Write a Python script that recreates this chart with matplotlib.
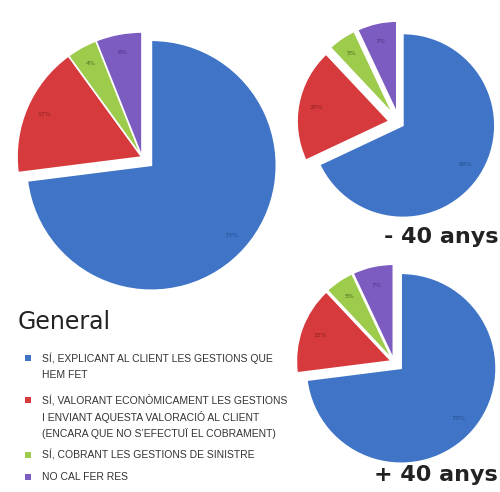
import matplotlib
matplotlib.use('Agg')
import matplotlib.pyplot as plt

# dades
categories = ['SÍ, EXPLICANT AL CLIENT LES GESTIONS QUE\nHEM FET',
              'SÍ, VALORANT ECONÒMICAMENT LES GESTIONS\nI ENVIANT AQUESTA VALORACIÓ AL CLIENT\n(ENCARA QUE NO S\u2019EFECTUÏ EL COBRAMENT)',
              'SÍ, COBRANT LES GESTIONS DE SINISTRE',
              'NO CAL FER RES']
general = [73, 17, 4, 6]
menys40 = [68, 20, 5, 7]
mes40 = [73, 15, 5, 7]
titles = ['General', '- 40 anys', '+ 40 anys']

colors = ['#3f74c6', '#d63a3c', '#9dcb4c', '#7d5cc2']
pct_colors = ['#27508f', '#8c2222', '#4d6b1c', '#4a3182']

W, H = 500, 492
fig = plt.figure(figsize=(W / 100, H / 100), dpi=100)
ax = fig.add_axes([0, 0, 1, 1])
ax.set_xlim(0, W)
ax.set_ylim(0, H)
ax.axis('off')


def draw_pie(values, cx, cy, r, explode, pctdist):
    wedges, texts, autotexts = ax.pie(
        values, colors=colors, startangle=90, counterclock=False,
        center=(cx, H - cy), radius=r, explode=[e * r for e in explode],
        autopct='%d%%', pctdistance=pctdist,
        wedgeprops=dict(edgecolor='white', linewidth=1.2),
        textprops=dict(fontsize=4.5))
    for t, c in zip(autotexts, pct_colors):
        t.set_color(c)


draw_pie(general, 142, 157, 125, [0.1, 0, 0, 0], 0.85)
draw_pie(menys40, 399, 123, 92, [0.05, 0.11, 0.11, 0.11], 0.8)
draw_pie(mes40, 394, 362, 95, [0.1, 0.03, 0.03, 0.03], 0.8)

ax.set_xlim(0, W)
ax.set_ylim(0, H)
ax.set_aspect('auto')

ax.text(18, H - 322, titles[0], fontsize=17, color='#222222', va='center', ha='left')
ax.text(498, H - 237, titles[1], fontsize=16, fontweight='bold', color='#222222', va='center', ha='right')
ax.text(498, H - 475, titles[2], fontsize=16, fontweight='bold', color='#222222', va='center', ha='right')

# llegenda
legend_y = [358, 400, 455, 477]
for cat, c, y in zip(categories, colors, legend_y):
    ax.scatter([28], [H - y], marker='s', s=22, color=c, edgecolors='none')
    for i, line in enumerate(cat.split('\n')):
        ax.text(42, H - y - i * 16.7, line, fontsize=7.5, family=['Liberation Sans', 'DejaVu Sans'],
                color='#333333', va='center', ha='left')

fig.savefig('out.png', dpi=100)
